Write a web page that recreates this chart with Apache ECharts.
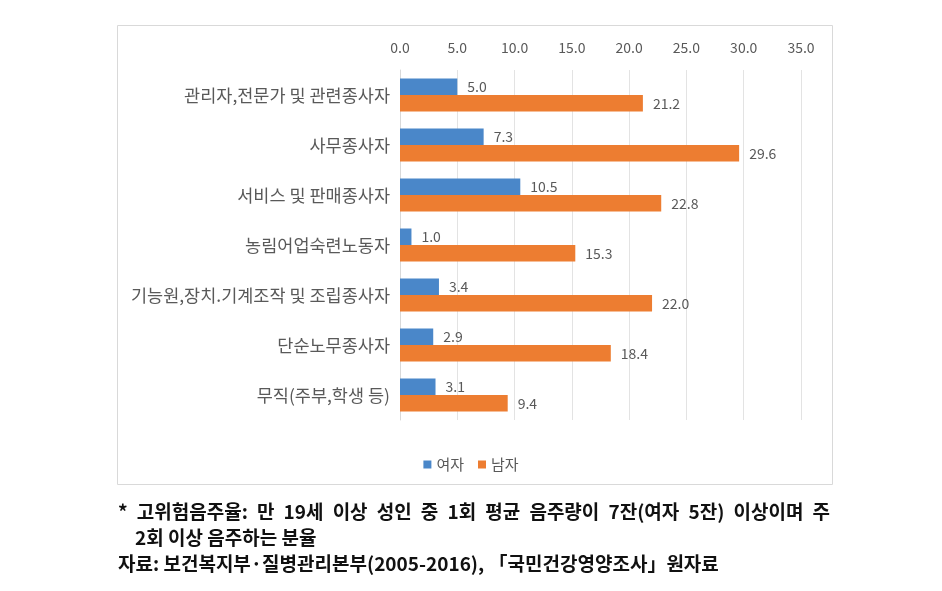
<!DOCTYPE html>
<html>
<head>
<meta charset="utf-8">
<script src="https://cdn.jsdelivr.net/npm/echarts@6/dist/echarts.min.js"></script>
<style>
  html, body { margin: 0; padding: 0; background: #fff; }
  #chart { width: 942px; height: 591px; }
</style>
</head>
<body>
<div id="chart"></div>
<script>
// 직업군 (위에서 아래 순서)
const categories = [
  '관리자,전문가 및 관련종사자',
  '사무종사자',
  '서비스 및 판매종사자',
  '농림어업숙련노동자',
  '기능원,장치.기계조작 및 조립종사자',
  '단순노무종사자',
  '무직(주부,학생 등)'
]
const femaleValues = [5.0, 7.3, 10.5, 1.0, 3.4, 2.9, 3.1]
const maleValues = [21.2, 29.6, 22.8, 15.3, 22.0, 18.4, 9.4]
const seriesNames = ['여자', '남자']
const noteLines = [
  '* 고위험음주율: 만 19세 이상 성인 중 1회 평균 음주량이 7잔(여자 5잔) 이상이며 주',
  '2회 이상 음주하는 분율',
  '자료: 보건복지부·질병관리본부(2005-2016), 「국민건강영양조사」원자료'
]

const FONT = '"Noto Sans CJK KR", "Noto Sans", sans-serif'
const labelColor = '#595959'
const noteFont = 'bold 19px "Noto Sans CJK KR", sans-serif'

const chartInstance = echarts.init(document.getElementById('chart'))

const buildSeries = (name, data, color) => ({
  name: name,
  type: 'bar',
  data: data,
  barGap: '0%',
  barCategoryGap: '34%',
  itemStyle: {color: color},
  label: {
    show: true,
    position: 'right',
    distance: 10,
    fontSize: 14,
    color: labelColor,
    fontFamily: FONT,
    formatter: (p) => p.value.toFixed(1)
  }
})

// 첫 줄은 양쪽 정렬 (단어 간격을 늘려 118~830 에 맞춤)
const measureCtx = document.createElement('canvas').getContext('2d')
measureCtx.font = noteFont
const justifyLine = (text, x0, x1, top) => {
  const words = text.split(' ')
  const widths = words.map(w => measureCtx.measureText(w).width)
  const total = widths.reduce((a, b) => a + b, 0)
  const gap = (x1 - x0 - total) / (words.length - 1)
  let x = x0
  return words.map((w, i) => {
    const el = {
      type: 'text',
      x: x,
      y: top,
      style: {text: w, font: noteFont, fill: '#111'}
    }
    x += widths[i] + gap
    return el
  })
}

const noteStyle = (text) => ({text: text, font: noteFont, fill: '#111'})

const option = {
  animation: false,
  textStyle: {fontFamily: FONT},
  grid: {left: 400, right: 141, top: 70, bottom: 171},
  xAxis: {
    type: 'value',
    position: 'top',
    min: 0,
    max: 35,
    interval: 5,
    axisLine: {show: false},
    axisTick: {show: false},
    axisLabel: {
      color: labelColor,
      fontSize: 14,
      margin: 15,
      formatter: (v) => v.toFixed(1)
    },
    splitLine: {lineStyle: {color: '#e3e3e3', width: 1}}
  },
  yAxis: {
    type: 'category',
    data: categories,
    inverse: true,
    axisLine: {show: true, lineStyle: {color: '#d9d9d9'}},
    axisTick: {show: false},
    axisLabel: {color: labelColor, fontSize: 17.5, margin: 10}
  },
  legend: {
    data: seriesNames,
    left: 'center',
    top: 452,
    icon: 'rect',
    itemWidth: 8,
    itemHeight: 8,
    itemGap: 14,
    textStyle: {color: labelColor, fontSize: 15}
  },
  series: [
    buildSeries(seriesNames[0], femaleValues, '#4a87c9'),
    buildSeries(seriesNames[1], maleValues, '#ed7d31')
  ],
  graphic: [
    {
      type: 'rect',
      shape: {x: 117.5, y: 25.5, width: 715, height: 459},
      style: {fill: 'none', stroke: '#d9d9d9', lineWidth: 1},
      silent: true,
      z: -1
    },
    ...justifyLine(noteLines[0], 118, 830, 502),
    {type: 'text', x: 135, y: 528, style: noteStyle(noteLines[1])},
    {type: 'text', x: 118, y: 554, style: noteStyle(noteLines[2])}
  ]
}

chartInstance.setOption(option)
</script>
</body>
</html>
